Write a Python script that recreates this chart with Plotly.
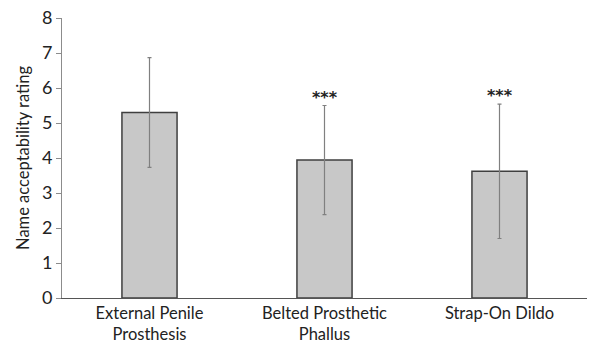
import plotly.graph_objects as go

categories = ["External Penile<br>Prosthesis", "Belted Prosthetic<br>Phallus", "Strap-On Dildo"]
means = [5.30, 3.94, 3.62]
sds = [1.57, 1.56, 1.92]
signif = ["", "***", "***"]
y_ticks = [0, 1, 2, 3, 4, 5, 6, 7, 8]

font = "Lato, 'Open Sans', sans-serif"

fig = go.Figure()
fig.add_trace(go.Bar(
    x=categories, y=means, width=0.315,
    marker=dict(color="#c8c8c8", line=dict(color="#3f3f3f", width=1.5)),
    error_y=dict(type="data", array=sds, visible=True, color="#808080", thickness=1.2, width=2),
    showlegend=False, hoverinfo="skip",
))
fig.add_trace(go.Scatter(
    x=categories, y=[m + s + 0.2 for m, s in zip(means, sds)],
    mode="text", text=[f"<b>{s}</b>" if s else "" for s in signif], textposition="middle center",
    textfont=dict(family="'DejaVu Sans', sans-serif", size=16, color="#222"),
    showlegend=False, hoverinfo="skip",
))
fig.update_layout(
    width=589, height=353,
    margin=dict(l=62, r=2, t=18, b=55),
    plot_bgcolor="white", paper_bgcolor="white",
    font=dict(family=font, color="#222"),
    bargap=0.685,
)
fig.update_yaxes(
    range=[0, 8], tickvals=y_ticks, showgrid=False, zeroline=False, automargin=False,
    ticklabeloverflow="allow",
    showline=True, linecolor="#8c8c8c", linewidth=1,
    ticks="outside", ticklen=5, tickcolor="#8c8c8c",
    tickfont=dict(size=18, family=font, color="#222"),
    title=dict(text="Name acceptability rating", font=dict(size=16.5, family=font, color="#222"), standoff=8),
)
fig.update_xaxes(
    showline=True, linecolor="#555", linewidth=1.2, ticks="", automargin=False,
    ticklabeloverflow="allow",
    tickfont=dict(size=16.5, family=font, color="#222"),
)
fig.write_html(
    "out.html",
    config={"displayModeBar": False, "staticPlot": True},
    post_script="document.body.style.margin='0';document.body.style.overflow='hidden';",
)
